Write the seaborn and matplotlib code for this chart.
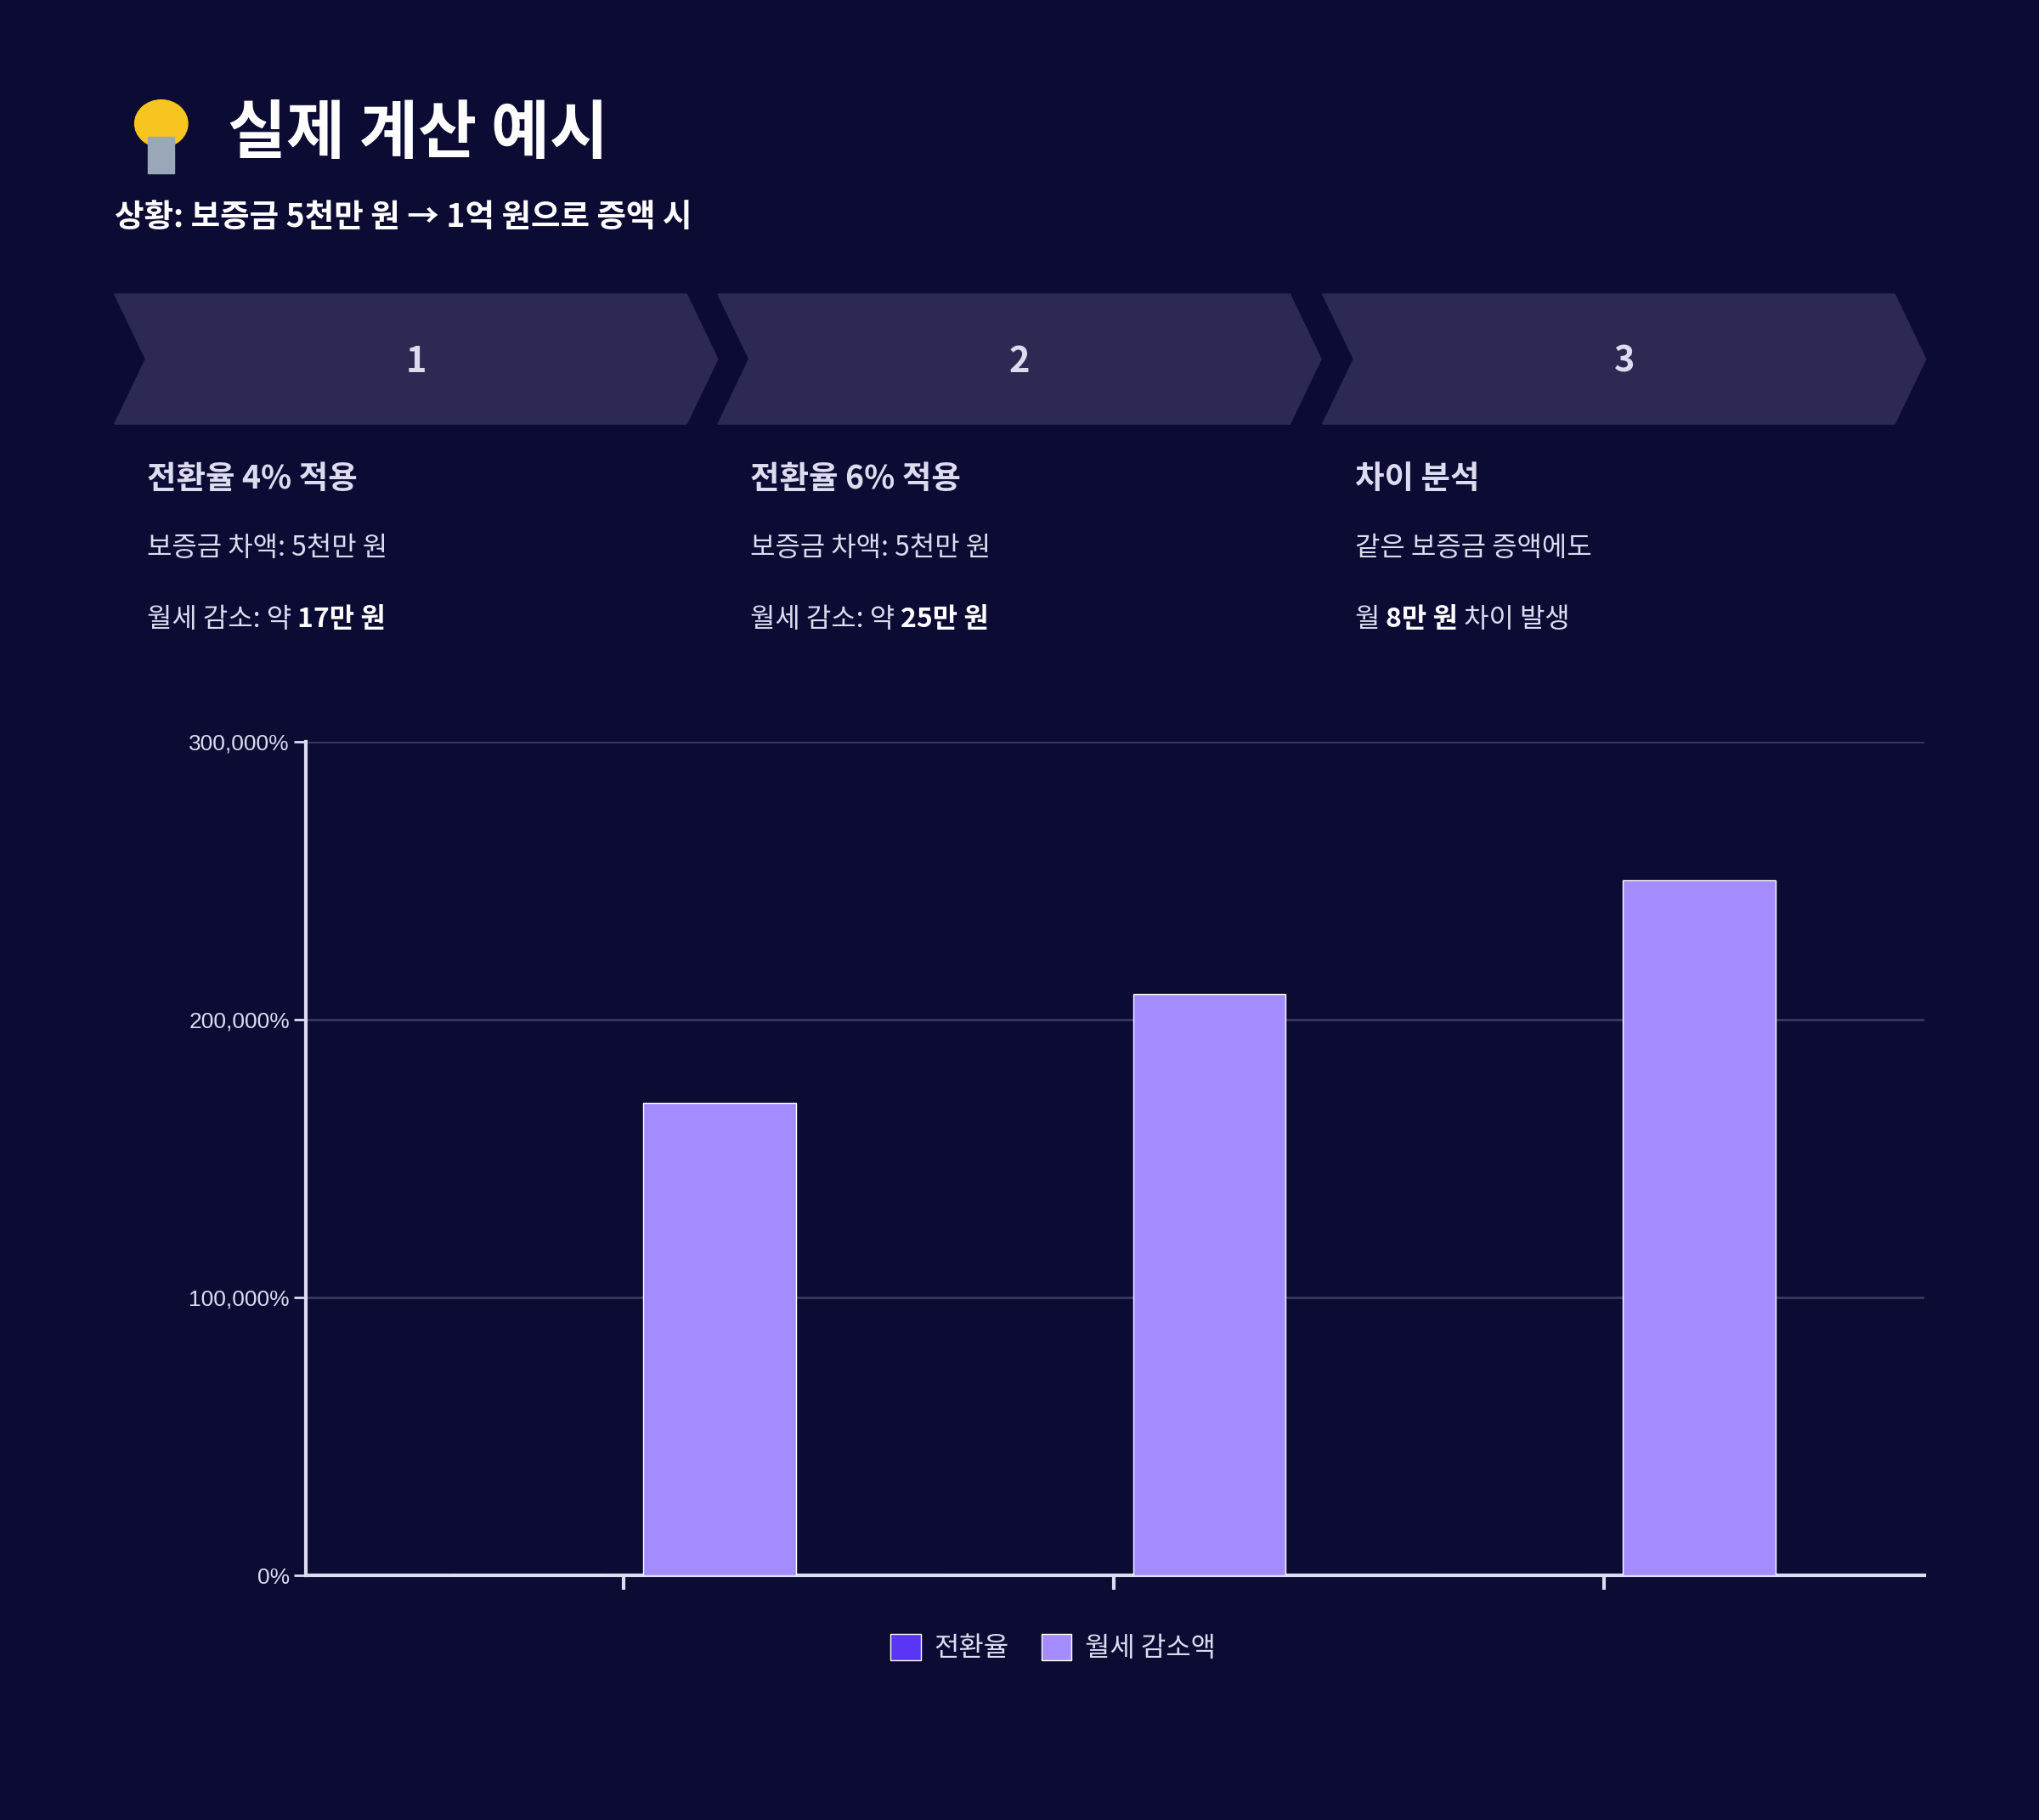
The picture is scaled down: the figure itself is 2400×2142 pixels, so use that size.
import matplotlib
matplotlib.use('Agg')
import matplotlib.pyplot as plt
import matplotlib.ticker as ticker
from matplotlib.patches import Polygon, Circle, Rectangle, Patch
import pandas as pd
import seaborn as sns

# ── Data ──────────────────────────────────────────────────────────────────────
CATEGORIES = ['4%', '6%', '차이']
RATE_VALUES = [4, 6, 2]                      # 전환율 (invisible at this scale)
RENT_VALUES = [170000, 209000, 250000]       # 월세 감소액
SERIES = ['전환율', '월세 감소액']
Y_TICKS = [0, 100000, 200000, 300000]

STEP_NUMS = ['1', '2', '3']
STEP_TITLES = ['전환율 4% 적용', '전환율 6% 적용', '차이 분석']
STEP_LINE1 = ['보증금 차액: 5천만 원', '보증금 차액: 5천만 원', '같은 보증금 증액에도']
STEP_LINE2 = [('월세 감소: 약 ', '17만 원', ''), ('월세 감소: 약 ', '25만 원', ''),
              ('월 ', '8만 원', ' 차이 발생')]

# ── Style ─────────────────────────────────────────────────────────────────────
BG = '#0b0b33'
CHEVRON = '#2c2a52'
TEXT = '#ffffff'
SUBTEXT = '#dcdcf0'
GRID = '#3a3a5e'
C_RATE = '#5b35f5'
C_RENT = '#a48cff'
W, H = 1568, 1399

sns.set_theme(style='dark')
plt.rcParams['font.family'] = ['Noto Sans CJK KR', 'DejaVu Sans']

fig = plt.figure(figsize=(24, 21.42), dpi=100, facecolor=BG)


def fx(x):
    return x / W


def fy(y):
    return 1 - y / H


# title with a simple drawn bulb
fig.patches.append(Circle((fx(124), fy(95)), 0.013, transform=fig.transFigure,
                          color='#f7c520', zorder=3))
fig.patches.append(Rectangle((fx(114), fy(133)), fx(20), 0.02, transform=fig.transFigure,
                             color='#9aa7b8', zorder=3))
fig.text(fx(175), fy(103), '실제 계산 예시', color=TEXT, fontsize=54,
         fontweight='bold', va='center', ha='left')
fig.text(fx(88), fy(167), '상황: 보증금 5천만 원 → 1억 원으로 증액 시', color=TEXT,
         fontsize=27, fontweight='bold', va='center', ha='left')

# chevrons
starts = [88, 552, 1017]
for i, x0 in enumerate(starts):
    x1 = x0 + 440
    pts = [(x0, 226), (x1, 226), (x1 + 24, 276), (x1, 326), (x0, 326), (x0 + 24, 276)]
    fig.patches.append(Polygon([(fx(a), fy(b)) for a, b in pts], closed=True,
                               transform=fig.transFigure, color=CHEVRON))
    fig.text(fx(x0 + 232), fy(278), STEP_NUMS[i], color=SUBTEXT, fontsize=30,
             fontweight='bold', ha='center', va='center')
    tx = x0 + 25
    fig.text(fx(tx), fy(368), STEP_TITLES[i], color=SUBTEXT, fontsize=27,
             fontweight='bold', ha='left', va='center')
    fig.text(fx(tx), fy(421), STEP_LINE1[i], color=SUBTEXT, fontsize=23,
             ha='left', va='center')
    pre, bold, post = STEP_LINE2[i]
    t = fig.text(fx(tx), fy(476), pre, color=SUBTEXT, fontsize=23, ha='left', va='center')
    fig.canvas.draw()
    bb = t.get_window_extent()
    x_next = bb.x1 / fig.bbox.width
    t2 = fig.text(x_next, fy(476), bold, color=TEXT, fontsize=23, fontweight='bold',
                  ha='left', va='center')
    if post:
        fig.canvas.draw()
        bb2 = t2.get_window_extent()
        fig.text(bb2.x1 / fig.bbox.width, fy(476), post, color=SUBTEXT, fontsize=23,
                 ha='left', va='center')

# ── Chart ─────────────────────────────────────────────────────────────────────
ax = fig.add_axes([fx(235), fy(1211), fx(1480 - 235), (1211 - 570) / H])
ax.set_facecolor(BG)

df = pd.DataFrame({
    'category': CATEGORIES * 2,
    'series': [SERIES[0]] * 3 + [SERIES[1]] * 3,
    'value': RATE_VALUES + RENT_VALUES,
})
sns.barplot(data=df, x='category', y='value', hue='series', hue_order=SERIES,
            palette=[C_RATE, C_RENT], width=0.78, gap=0.2, legend=False,
            saturation=1, ax=ax, zorder=3)

ax.set_xlim(-0.65, 2.655)
ax.set_ylim(0, 300000)
ax.set_yticks(Y_TICKS)
ax.yaxis.set_major_formatter(ticker.FuncFormatter(lambda v, _: f'{v:,.0f}%'))
ax.set_xticklabels([])
ax.set_xlabel('')
ax.set_ylabel('')
ax.tick_params(axis='y', colors=SUBTEXT, labelsize=19, length=10, width=2, left=True)
ax.tick_params(axis='x', colors=SUBTEXT, length=12, width=3, bottom=True)
for lbl in ax.get_yticklabels():
    lbl.set_family(['Liberation Sans', 'DejaVu Sans'])
ax.grid(axis='y', color=GRID, linewidth=2, zorder=0)
ax.grid(axis='x', visible=False)
for side in ['top', 'right']:
    ax.spines[side].set_visible(False)
for side in ['left', 'bottom']:
    ax.spines[side].set_color(SUBTEXT)
    ax.spines[side].set_linewidth(3)

handles = [Patch(facecolor=C_RATE, label=SERIES[0]), Patch(facecolor=C_RENT, label=SERIES[1])]
leg = fig.legend(handles=handles, loc='center', bbox_to_anchor=(fx(810), fy(1267)),
                 ncol=2, frameon=False, fontsize=23, handlelength=1.1, handleheight=1.1,
                 columnspacing=1.2, handletextpad=0.5)
for t in leg.get_texts():
    t.set_color(SUBTEXT)

fig.savefig('out.png', dpi=100, facecolor=BG)
